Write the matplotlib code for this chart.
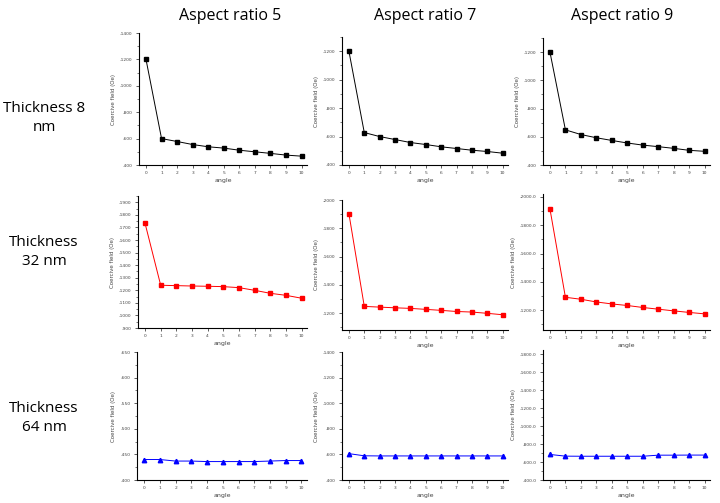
import matplotlib
matplotlib.use('Agg')
import matplotlib.pyplot as plt
import matplotlib.ticker as ticker

plt.rcParams['font.family'] = ['DejaVu Sans']

angle = list(range(11))

# coercive field (Oe), rows = thickness, cols = aspect ratio
hc_t8_ar5 = [-1200, -600, -578, -555, -538, -528, -512, -500, -488, -475, -467]
hc_t8_ar7 = [-1200, -628, -600, -579, -558, -544, -528, -516, -504, -495, -483]
hc_t8_ar9 = [-1200, -649, -616, -593, -574, -556, -541, -530, -518, -504, -497]
hc_t32_ar5 = [-1733, -1240, -1237, -1234, -1232, -1229, -1221, -1200, -1176, -1160, -1137]
hc_t32_ar7 = [-1903, -1247, -1242, -1237, -1233, -1226, -1219, -1211, -1207, -1198, -1188]
hc_t32_ar9 = [-1914, -1291, -1277, -1258, -1244, -1233, -1219, -1207, -1195, -1184, -1174]
hc_t64_ar5 = [-440, -440, -437, -437, -436, -436, -436, -436, -437, -438, -438]
hc_t64_ar7 = [-606, -589, -588, -588, -588, -588, -588, -588, -588, -588, -588]
hc_t64_ar9 = [-685, -666, -665, -665, -665, -665, -665, -677, -677, -678, -678]

col_titles = ['Aspect ratio 5', 'Aspect ratio 7', 'Aspect ratio 9']
row_titles = ['Thickness 8\nnm', 'Thickness\n32 nm', 'Thickness\n64 nm']

panels = [
    # data, color, marker, (top, bottom), tick step, fmt, pixel box (x0, y0, x1, y1)
    (hc_t8_ar5, 'black', 's', (-1400, -400), 200, '{:.0f}', (139, 33, 307, 165)),
    (hc_t8_ar7, 'black', 's', (-1300, -400), 200, '{:.0f}', (342, 37, 508, 165)),
    (hc_t8_ar9, 'black', 's', (-1300, -400), 200, '{:.0f}', (543, 38, 710, 165)),
    (hc_t32_ar5, 'red', 's', (-1950, -900), 100, '{:.0f}', (138, 196, 307, 328)),
    (hc_t32_ar7, 'red', 's', (-2000, -1080), 200, '{:.0f}', (342, 200, 508, 330)),
    (hc_t32_ar9, 'red', 's', (-2020, -1060), 200, '{:.1f}', (543, 194, 710, 330)),
    (hc_t64_ar5, 'blue', '^', (-650, -400), 50, '{:.0f}', (137, 352, 307, 480)),
    (hc_t64_ar7, 'blue', '^', (-1400, -400), 200, '{:.0f}', (342, 352, 508, 480)),
    (hc_t64_ar9, 'blue', '^', (-1850, -400), 200, '{:.1f}', (543, 350, 710, 480)),
]

W, H = 720, 503
fig = plt.figure(figsize=(W / 100, H / 100), dpi=100)

for data, color, marker, (top, bottom), step, fmt, (x0, y0, x1, y1) in panels:
    ax = fig.add_axes([x0 / W, 1 - y1 / H, (x1 - x0) / W, (y1 - y0) / H])
    ax.plot(angle, data, color=color, marker=marker, markersize=3.2, linewidth=0.7)
    ax.set_xlim(-0.45, 10.35)
    ax.set_ylim(bottom, top)
    ax.set_xticks(angle)
    ax.yaxis.set_major_locator(ticker.MultipleLocator(step))
    ax.yaxis.set_minor_locator(ticker.AutoMinorLocator(2))
    ax.yaxis.set_major_formatter(ticker.FuncFormatter(lambda v, p, f=fmt: f.format(v)))
    ax.spines['top'].set_visible(False)
    ax.spines['right'].set_visible(False)
    for s in ['left', 'bottom']:
        ax.spines[s].set_linewidth(0.8)
    ax.tick_params(axis='both', which='major', labelsize=3.2, length=2.5, width=0.6, pad=2, colors='#444444')
    ax.tick_params(axis='both', which='minor', length=1.5, width=0.5, colors='#444444')
    ax.set_xlabel('angle', fontsize=4.5, labelpad=2, color='#444444')
    ax.set_ylabel('Coercive field (Oe)', fontsize=4, labelpad=3, color='#444444')

col_x = [230, 425, 622]
for x, t in zip(col_x, col_titles):
    fig.text(x / W, 1 - 16 / H, t, ha='center', va='center', fontsize=11.5, family='Open Sans')

row_y = [118, 252, 418]
for y, t in zip(row_y, row_titles):
    fig.text(44 / W, 1 - y / H, t, ha='center', va='center', fontsize=11, family='Open Sans', linespacing=1.3)

fig.savefig('out.png', dpi=100)
